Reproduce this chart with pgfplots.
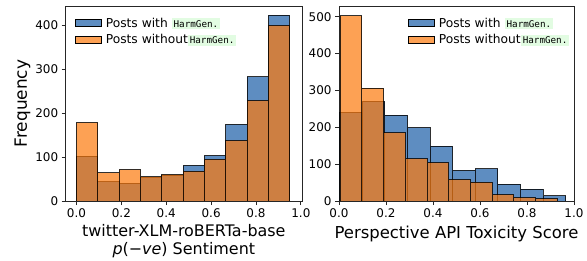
\documentclass[border=0pt]{standalone}
\usepackage{pgfplots}
\pgfplotsset{compat=1.18}
\usepackage{fontspec}
\setmainfont{DejaVu Sans}
\setmonofont{DejaVu Sans Mono}
\definecolor{cblue}{HTML}{1A5DA6}
\definecolor{corange}{HTML}{FC790C}
\definecolor{hgreen}{HTML}{E2FCE2}
\newcommand{\hg}{{\setlength{\fboxsep}{2bp}\colorbox{hgreen}{\fontsize{9.3}{10}\selectfont\ttfamily HarmGen.}}}
\pgfplotsset{
  myaxis/.style={
    scale only axis, anchor=south west, height=195bp,
    ymin=0,
    axis line style={draw=black!85, line width=0.8bp},
    tick align=outside, xtick pos=bottom, ytick pos=left,
    major tick length=4bp,
    tick style={black!85, line width=0.8bp},
    tick label style={font=\fontsize{12}{14}\selectfont},
    /pgf/number format/assume math mode=true,
    xtick={0,0.2,0.4,0.6,0.8,1},
    xticklabel style={/pgf/number format/.cd, fixed, fixed zerofill, precision=1},
    yticklabel style={/pgf/number format/.cd, fixed, precision=0},
    legend style={draw=none, fill=none, font=\fontsize{12.3}{14}\selectfont,
      anchor=north west, inner xsep=0pt, inner ysep=0pt, row sep=3.5bp,
      nodes={inner xsep=3.5bp, inner ysep=1bp}, cells={anchor=west}},
  },
  bluebar/.style={ybar interval, fill=cblue, fill opacity=0.7, draw=black, draw opacity=0.8, line width=1bp, forget plot},
  orangebar/.style={ybar interval, fill=corange, fill opacity=0.7, draw=black, draw opacity=0.8, line width=1bp, forget plot},
  mylegend/.style={legend image code/.code={\draw[##1] (0bp,-3.4bp) rectangle (26bp,3.4bp);}},
}
\begin{document}
\begin{tikzpicture}
\begin{axis}[myaxis, at={(65.7bp,60bp)}, width=236.3bp,
  xmin=-0.048, xmax=1.005, ymax=443,
  ytick={0,100,200,300,400},
  ylabel={Frequency},
  ylabel style={font=\fontsize{17}{19}\selectfont, yshift=-2bp},
  xlabel={twitter-XLM-roBERTa-base\\\textit{p}(−\textit{ve}) Sentiment},
  xlabel style={font=\fontsize{16}{18.5}\selectfont, align=center},
  legend style={at={(0.04,0.945)}},
]
\addplot[bluebar] coordinates {
(0.000,102) (0.095,44) (0.190,40) (0.285,53) (0.380,59) (0.475,81) (0.570,103) (0.665,174) (0.760,282) (0.855,422) (0.950,422)};
\addplot[orangebar] coordinates {
(0.000,178) (0.095,64) (0.190,71) (0.285,55) (0.380,60) (0.475,68) (0.570,95) (0.665,137) (0.760,228) (0.855,399) (0.950,399)};
\addlegendimage{mylegend, fill=cblue, fill opacity=0.7, draw=black, line width=1bp}
\addlegendentry{Posts with \hg}
\addlegendimage{mylegend, fill=corange, fill opacity=0.7, draw=black, line width=1bp}
\addlegendentry{Posts without\hg}
\end{axis}
\begin{axis}[myaxis, at={(339bp,60bp)}, width=235bp,
  xmin=0, xmax=1, ymax=529,
  ytick={0,100,200,300,400,500},
  xlabel={Perspective API Toxicity Score},
  xlabel style={font=\fontsize{16.5}{19}\selectfont, yshift=-2bp},
  legend style={at={(0.294,0.945)}},
]
\addplot[bluebar] coordinates {
(0.003,240) (0.099,270) (0.195,233) (0.292,199) (0.388,149) (0.484,83) (0.580,87) (0.676,46) (0.773,32) (0.869,14) (0.965,14)};
\addplot[orangebar] coordinates {
(0.005,502) (0.097,306) (0.190,185) (0.282,114) (0.375,104) (0.467,58) (0.559,51) (0.652,17) (0.744,9) (0.836,6) (0.929,6)};
\addlegendimage{mylegend, fill=cblue, fill opacity=0.7, draw=black, line width=1bp}
\addlegendentry{Posts with \hg}
\addlegendimage{mylegend, fill=corange, fill opacity=0.7, draw=black, line width=1bp}
\addlegendentry{Posts without\hg}
\end{axis}
\pgfresetboundingbox
\path[use as bounding box] (0,0) rectangle (587bp,261bp);
\end{tikzpicture}
\end{document}
